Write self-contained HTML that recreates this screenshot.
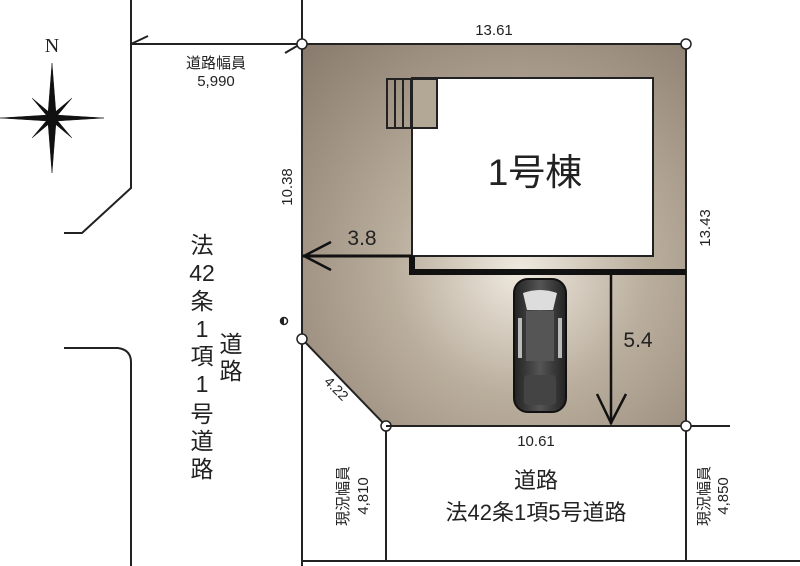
<!DOCTYPE html>
<html><head><meta charset="utf-8"><style>
html,body{margin:0;padding:0;background:#fff}
svg{display:block}
text{font-family:"Liberation Sans","Noto Sans CJK JP",sans-serif;fill:#222}
</style></head><body>
<svg width="800" height="566" viewBox="0 0 800 566" xmlns="http://www.w3.org/2000/svg">
<defs>
<radialGradient id="g" cx="520" cy="270" r="320" gradientUnits="userSpaceOnUse">
<stop offset="0" stop-color="#efe9df"/>
<stop offset="0.4" stop-color="#b9ad9c"/>
<stop offset="1" stop-color="#86786a"/>
</radialGradient>
<linearGradient id="car" x1="0" x2="1"><stop offset="0" stop-color="#222"/><stop offset="0.5" stop-color="#555"/><stop offset="1" stop-color="#222"/></linearGradient>
</defs>
<polygon points="302,44 686,44 686,426 386,426 302,339" fill="url(#g)" stroke="#222" stroke-width="2"/>
<rect x="412" y="78" width="241" height="178" fill="#fff" stroke="#222" stroke-width="2"/>
<rect x="387" y="79" width="50" height="49" fill="none" stroke="#222" stroke-width="2"/>
<line x1="395" y1="79" x2="395" y2="128" stroke="#222" stroke-width="2"/>
<line x1="403" y1="79" x2="403" y2="128" stroke="#222" stroke-width="2"/>
<line x1="411" y1="79" x2="411" y2="128" stroke="#222" stroke-width="2"/>
<rect x="413" y="80" width="23" height="47" fill="#b3a795"/>
<line x1="412" y1="79" x2="412" y2="256" stroke="#222" stroke-width="2"/>
<text x="535" y="185" font-size="37" text-anchor="middle">1号棟</text>
<polyline points="412,256 412,272 686,272" fill="none" stroke="#111" stroke-width="6"/>
<line x1="303" y1="256" x2="412" y2="256" stroke="#111" stroke-width="3"/>
<polyline points="331,242 304,256 331,270" fill="none" stroke="#111" stroke-width="2.5"/>
<text x="362" y="245" font-size="21" text-anchor="middle">3.8</text>
<line x1="611" y1="275" x2="611" y2="424" stroke="#111" stroke-width="2.5"/>
<polyline points="597,394 611,423 626,394" fill="none" stroke="#111" stroke-width="2.5"/>
<text x="638" y="347" font-size="21" text-anchor="middle">5.4</text>
<g>
<rect x="514" y="279" width="52" height="133" rx="14" fill="url(#car)" stroke="#111" stroke-width="2"/>
<path d="M523,293 Q540,287 557,293 L553,310 L527,310 Z" fill="#ddd"/>
<rect x="526" y="311" width="28" height="50" fill="#555"/>
<rect x="518" y="318" width="4" height="40" fill="#bbb"/>
<rect x="558" y="318" width="4" height="40" fill="#bbb"/>
<rect x="524" y="375" width="32" height="30" rx="4" fill="#444"/>
</g>
<g fill="#fff" stroke="#222" stroke-width="1.5">
<circle cx="302" cy="44" r="5"/><circle cx="686" cy="44" r="5"/>
<circle cx="302" cy="339" r="5"/><circle cx="386" cy="426" r="5"/><circle cx="686" cy="426" r="5"/>
</g>
<circle cx="284" cy="321" r="3.5" fill="#fff" stroke="#222" stroke-width="1.5"/><path d="M284,317.5 a3.5,3.5 0 0 0 0,7 z" fill="#222"/>
<g stroke="#222" stroke-width="2" fill="none">
<line x1="302" y1="0" x2="302" y2="39"/>
<polyline points="131,0 131,188 82,233 64,233"/>
<line x1="131" y1="44" x2="297" y2="44"/>
<line x1="131" y1="44" x2="148" y2="36"/>
<line x1="285" y1="53" x2="297" y2="46"/>
<path d="M64,348 L118,348 Q131,350 131,362 L131,566"/>
<line x1="302" y1="344" x2="302" y2="566"/>
<line x1="302" y1="561" x2="800" y2="561"/>
<line x1="386" y1="431" x2="386" y2="561"/>
<line x1="686" y1="431" x2="686" y2="561"/>
<line x1="691" y1="426" x2="730" y2="426"/>
<line x1="386" y1="426" x2="680" y2="426"/>
</g>
<text x="52" y="52" font-size="20" text-anchor="middle" style="font-family:'Liberation Serif',serif">N</text>
<g transform="translate(52,118)" fill="#111" stroke="#111" stroke-width="0.5">
<polygon points="0,-55 4,-4 0,0 -4,-4"/>
<polygon points="0,55 4,4 0,0 -4,4"/>
<polygon points="-52,0 -4,-3 0,0 -4,3"/>
<polygon points="52,0 4,-3 0,0 4,3"/>
<polygon points="-20,-20 -2,-5 0,0 -5,-2"/>
<polygon points="20,-20 2,-5 0,0 5,-2"/>
<polygon points="-20,20 -2,5 0,0 -5,2"/>
<polygon points="20,20 2,5 0,0 5,2"/>
</g>
<text x="216" y="68" font-size="15" text-anchor="middle">道路幅員</text>
<text x="216" y="86" font-size="15" text-anchor="middle">5,990</text>
<text x="494" y="35" font-size="15" text-anchor="middle">13.61</text>
<text transform="translate(292,187) rotate(-90)" font-size="15" text-anchor="middle">10.38</text>
<text transform="translate(710,228) rotate(-90)" font-size="15" text-anchor="middle">13.43</text>
<text transform="translate(333,392) rotate(45)" font-size="14" text-anchor="middle">4.22</text>
<text x="536" y="446" font-size="15" text-anchor="middle">10.61</text>
<text x="536" y="488" font-size="22" text-anchor="middle">道路</text>
<text x="536" y="520" font-size="22" text-anchor="middle">法42条1項5号道路</text>
<text transform="translate(348,496) rotate(-90)" font-size="15" text-anchor="middle">現況幅員</text>
<text transform="translate(368,496) rotate(-90)" font-size="15" text-anchor="middle">4,810</text>
<text transform="translate(709,496) rotate(-90)" font-size="15" text-anchor="middle">現況幅員</text>
<text transform="translate(728,496) rotate(-90)" font-size="15" text-anchor="middle">4,850</text>
<g font-size="23" text-anchor="middle">
<text x="202" y="253">法</text><text x="202" y="281">42</text><text x="202" y="309">条</text>
<text x="202" y="337">1</text><text x="202" y="364">項</text><text x="202" y="392">1</text>
<text x="202" y="422">号</text><text x="202" y="449">道</text><text x="202" y="477">路</text>
<text x="231" y="352">道</text><text x="231" y="379">路</text>
</g>
</svg>
</body></html>
